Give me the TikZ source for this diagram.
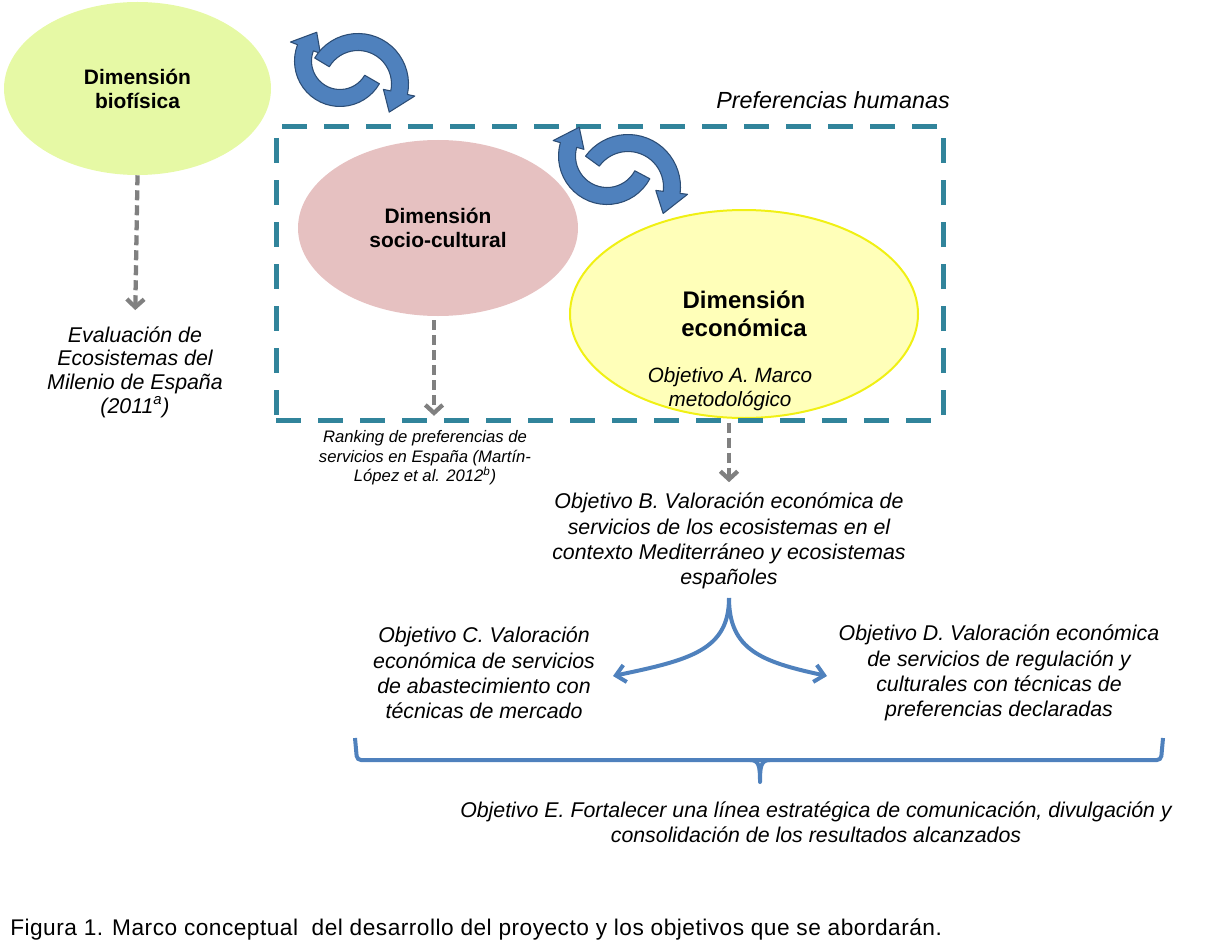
\documentclass[tikz,border=0pt]{standalone}
\usepackage{fontspec}
\setmainfont{Liberation Sans}
\usetikzlibrary{arrows.meta,shapes.geometric}
\definecolor{biofill}{RGB}{230,249,165}
\definecolor{socfill}{RGB}{230,193,193}
\definecolor{ecofill}{RGB}{255,255,185}
\definecolor{ecoline}{RGB}{240,240,20}
\definecolor{prefteal}{RGB}{49,132,155}
\definecolor{arrgray}{RGB}{128,128,128}
\definecolor{cycfill}{RGB}{79,129,189}
\definecolor{cycline}{RGB}{44,77,117}
\definecolor{blueline}{RGB}{79,129,189}
\newcommand\cycarrow[5]{%
  \pgfmathsetmacro\hA{#5-30}%
  \filldraw[cycst] plot[domain=#4:\hA, samples=25] ({#1+(#3+8.5)*cos(\x)},{#2+(#3+8.5)*sin(\x)})
   -- ({#1+(#3+16)*cos(\hA)},{#2+(#3+16)*sin(\hA)})
   -- ({#1+#3*cos(#5)},{#2+#3*sin(#5)})
   -- ({#1+(#3-16)*cos(\hA)},{#2+(#3-16)*sin(\hA)})
   -- plot[domain=\hA:#4, samples=25] ({#1+(#3-8.5)*cos(\x)},{#2+(#3-8.5)*sin(\x)})
   -- cycle;}
\tikzset{
 lbl/.style={font=\fontsize{16}{18.9}\selectfont\itshape, align=center, inner sep=0pt},
 dimtxt/.style={font=\fontsize{15.7}{18}\selectfont\bfseries, align=center, ellipse, inner sep=0pt},
 grayarr/.style={draw=arrgray, line width=3.2pt, dash pattern=on 7.5pt off 3.75pt, -{Straight Barb[length=6pt,width=13pt]}},
 bluearr/.style={draw=blueline, line width=3pt, -{Straight Barb[length=7pt,width=13pt]}},
 cycst/.style={fill=cycfill, draw=cycline, line width=0.8pt, line join=round},
 bracest/.style={draw=blueline, line width=3pt}
}
\begin{document}
\begin{tikzpicture}[x=0.75pt,y=-0.75pt]
\useasboundingbox (0,0) rectangle (1209,945);

% ellipses
\node[dimtxt, fill=biofill, minimum width=200.25pt, minimum height=129.75pt] (bio) at (137.5,88.5) {Dimensión\\biofísica};
\node[dimtxt, fill=socfill, minimum width=210pt, minimum height=132pt] (soc) at (438,228) {Dimensión\\socio-cultural};
\node[dimtxt, fill=ecofill, draw=ecoline, line width=1.5pt, minimum width=261pt, minimum height=156pt,
      font=\fontsize{18}{21}\selectfont\bfseries] (eco) at (744,314) {Dimensión\\económica};
\node[lbl, font=\fontsize{15.5}{18}\selectfont\itshape] (objA) at (730,389) {Objetivo A. Marco\\metodológico};

% dashed frame
\node[draw=prefteal, line width=3.75pt, dash pattern=on 18.75pt off 12.75pt,
      minimum width=500.25pt, minimum height=219.75pt, inner sep=0pt] (prefbox) at (609.5,273.5) {};
\node[font=\fontsize{17.5}{20}\selectfont\itshape, inner sep=0pt] (prefl) at (833,100) {Preferencias humanas};

% cyclic arrows
\cycarrow{340}{61}{37}{30}{231}
\cycarrow{358}{84}{42}{211}{402}
\cycarrow{607}{156}{40}{28}{226}
\cycarrow{628}{187}{44}{216}{397}

% text labels
\node[lbl, font=\fontsize{16}{17.8}\selectfont\itshape] (eval) at (135,372) {Evaluación de\\Ecosistemas del\\Milenio de España\\(2011\textsuperscript{a})};
\node[lbl, font=\fontsize{12.5}{14.6}\selectfont\itshape] (rank) at (425,458) {Ranking de preferencias de\\servicios en España (Martín-\\López et al. 2012\textsuperscript{b})};
\node[lbl] (objB) at (729,541) {Objetivo B. Valoración económica de\\servicios de los ecosistemas en el\\contexto Mediterráneo y ecosistemas\\españoles};
\node[lbl] (objC) at (484,673) {Objetivo C. Valoración\\económica de servicios\\de abastecimiento con\\técnicas de mercado};
\node[lbl] (objD) at (999,673) {Objetivo D. Valoración económica\\de servicios de regulación y\\culturales con técnicas de\\preferencias declaradas};
\node[lbl] (objE) at (816,822) {Objetivo E. Fortalecer una línea estratégica de comunicación, divulgación y\\consolidación de los resultados alcanzados};
\node[anchor=west, inner sep=0pt, font=\fontsize{17}{19}\selectfont\addfontfeatures{LetterSpace=2.2}] (cap) at (10,929) {Figura 1. Marco conceptual\ \ del desarrollo del proyecto y los objetivos que se abordarán.};

% gray dashed arrows
\draw[grayarr, shorten >=12pt] (bio.south) -- (eval.north);
\draw[grayarr, shorten <=3pt, shorten >=11pt] ([xshift=-3pt]soc.south) -- ([xshift=-3pt]soc.south |- rank.north);
\draw[grayarr, shorten >=8pt] (prefbox.south -| objB) -- (objB.north);

% blue curved arrows
\coordinate (cL) at (613,676);
\coordinate (cR) at (827,676);
\coordinate (bS) at (729,598);
\draw[bluearr] (bS) .. controls (729,650) and (690,660) .. (cL);
\draw[bluearr] (bS) .. controls (729,650) and (762,662) .. (cR);

% bracket
\draw[bracest, rounded corners=3pt] (355,738) -- (357,760) -- (1161,760) -- (1163,738);
\draw[bracest, line join=round] (750,760) .. controls (759,760) and (760,766) .. (760,782)
  .. controls (760,766) and (761,760) .. (770,760);
\end{tikzpicture}
\end{document}
